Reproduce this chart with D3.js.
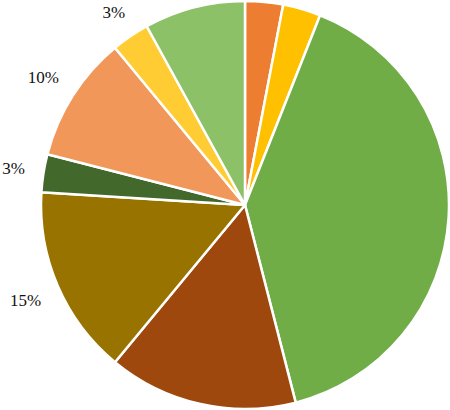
<!DOCTYPE html>
<meta charset="utf-8">
<style>
body { margin: 0; background: #fff; }
.label {
  font-family: "Liberation Serif", "Times New Roman", serif;
  font-size: 17px;
  fill: #111;
  text-anchor: middle;
}
</style>
<svg width="450" height="410"></svg>
<script src="https://d3js.org/d3.v7.min.js"></script>
<script>
// slice shares, clockwise from 12 o'clock
var values = [3, 3, 40, 15, 15, 3, 10, 3, 8];
var colors = ["#ED7D31", "#FFC000", "#70AD47", "#9E480E", "#997300",
              "#43682B", "#F1975A", "#FFCD33", "#8CC168"];
// only some of the slices carry a label in the picture
var showLabel = [false, false, false, false, true, true, true, true, false];

var svg = d3.select("svg"),
    radius = 204,
    g = svg.append("g").attr("transform", "translate(245,205)");

var pie = d3.pie().sort(null).value(function(d) { return d; });
var arc = d3.arc().innerRadius(0).outerRadius(radius);

var arcs = pie(values);

g.selectAll("path")
  .data(arcs)
  .enter().append("path")
    .attr("d", arc)
    .attr("fill", function(d, i) { return colors[i]; })
    .attr("stroke", "#fff")
    .attr("stroke-width", 2.5)
    .attr("stroke-linejoin", "round");

// labels sit just outside the rim; push wider ones further out sideways
function labelPos(d) {
  var a = (d.startAngle + d.endAngle) / 2,
      s = Math.sin(a), c = Math.cos(a),
      halfW = String(d.value).length * 4.5 + 7,
      r = radius + 18 + halfW * Math.abs(s) + 6 * Math.abs(c);
  return [r * s, -r * c];
}

g.selectAll("text")
  .data(arcs.filter(function(d, i) { return showLabel[i]; }))
  .enter().append("text")
    .attr("class", "label")
    .attr("transform", function(d) { return "translate(" + labelPos(d) + ")"; })
    .attr("dy", "0.35em")
    .text(function(d) { return d.value + "%"; });
</script>
